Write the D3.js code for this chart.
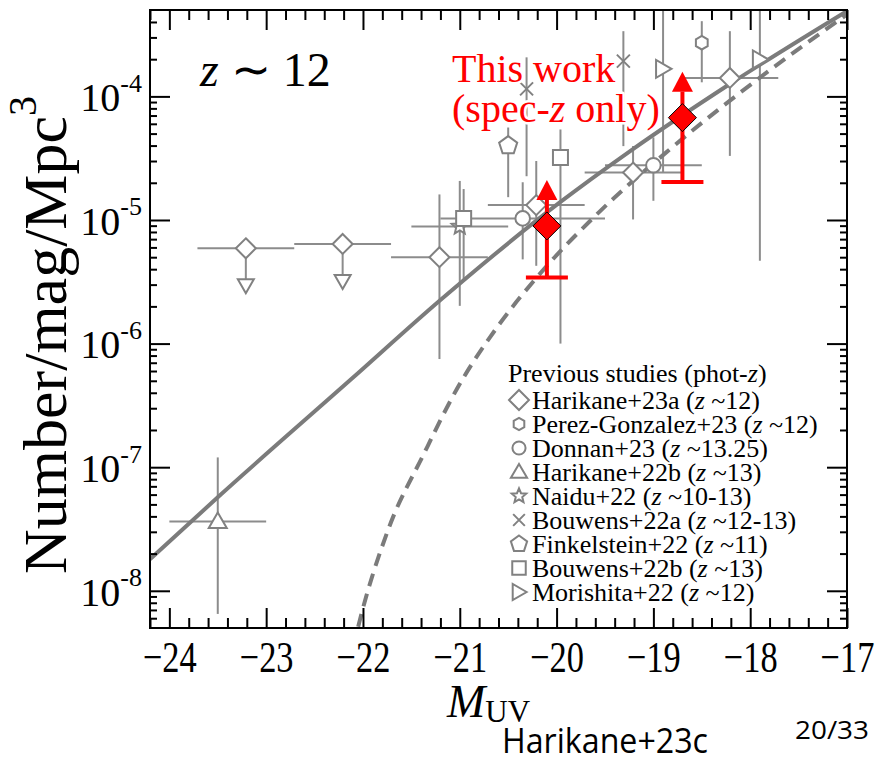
<!DOCTYPE html>
<html>
<head>
<meta charset="utf-8">
<script src="https://cdn.jsdelivr.net/npm/d3@7"></script>
<style>
  html, body { margin: 0; padding: 0; background: #fff; }
  svg { display: block; }
  .serif { font-family: "Liberation Serif", "Times New Roman", serif; }
</style>
</head>
<body>
<script>
// ---- UV luminosity function at z ~ 12 ----

// Axis ranges and tick values
const xDomain = [-24.2, -17];
const yDomain = [5e-9, 5e-4];
const xMajorTicks = [-24, -23, -22, -21, -20, -19, -18, -17];
const yMajorExp = [-8, -7, -6, -5, -4];

// Harikane+23a (z~12), diamonds; first two are upper limits
const h23aM   = [-23.21, -22.21, -21.21, -20.21, -19.21, -18.21];
const h23aPhi = [5.9e-6, 6.4e-6, 5.0e-6, 1.32e-5, 2.42e-5, 1.41e-4];
const h23aLo  = [null, null, 7.5e-7, 4.26e-6, 1.01e-5, 3.3e-5];
const h23aHi  = [null, null, 1.61e-5, 3.0e-5, 3.97e-5, 3.37e-4];
const h23aDM  = [0.5, 0.5, 0.5, 0.5, 0.5, 0.5];
const h23aUL  = [true, true, false, false, false, false];

// Perez-Gonzalez+23 (z~12), hexagon
const pg23M   = [-18.5];
const pg23Phi = [2.72e-4];
const pg23Lo  = [1.3e-4];
const pg23Hi  = [4.06e-4];
const pg23DM  = [0];

// Donnan+23 (z~13.25), circles
const d23M   = [-20.35, -19.0];
const d23Phi = [1.03e-5, 2.77e-5];
const d23Lo  = [4.8e-6, 1.43e-5];
const d23Hi  = [2.02e-5, 4.66e-5];
const d23DM  = [0.85, 0.5];

// Harikane+22b (z~13), triangle
const h22bM   = [-23.5];
const h22bPhi = [3.63e-8];
const h22bLo  = [6.5e-9];
const h22bHi  = [1.2e-7];
const h22bDM  = [0.5];

// Naidu+22 (z~10-13), star
const n22M   = [-21.0];
const n22Phi = [8.85e-6];
const n22Lo  = [2.02e-6];
const n22Hi  = [2.07e-5];
const n22DM  = [0.5];

// Bouwens+22a (z~12-13), crosses
const b22aM   = [-20.31, -19.31];
const b22aPhi = [1.15e-4, 1.93e-4];
const b22aLo  = [2.26e-5, 3.96e-5];
const b22aHi  = [2.07e-4, 3.37e-4];
const b22aDM  = [0, 0];

// Finkelstein+22 (z~11), pentagon
const f22M   = [-20.5];
const f22Phi = [4.0e-5];
const f22Lo  = [1.53e-5];
const f22Hi  = [5.6e-5];
const f22DM  = [0];

// Bouwens+22b (z~13), squares
const b22bM   = [-20.96, -19.96];
const b22bPhi = [1.03e-5, 3.2e-5];
const b22bLo  = [3.32e-6, 1.0e-6];
const b22bHi  = [1.78e-5, 5.4e-5];
const b22bDM  = [0, 0];

// Morishita+22 (z~12), right-pointing triangles
const m22M   = [-18.9, -17.9];
const m22Phi = [1.67e-4, 1.99e-4];
const m22Lo  = [2.43e-5, 4.68e-6];
const m22Hi  = [1e-3, 1e-3];
const m22DM  = [0, 0];

// This work (spec-z only): lower limits
const twM   = [-20.1, -18.7];
const twPhi = [8.95e-6, 6.73e-5];
const twLo  = [3.42e-6, 2.03e-5];

// Double power-law fit (solid)
const dplM   = [-24.2, -23.5, -22.12, -21.2, -19.97, -19.24, -18.21, -17.0];
const dplPhi = [1.80e-8, 5.71e-8, 5.16e-7, 2.25e-6, 1.38e-5, 3.61e-5, 1.26e-4, 4.9e-4];

// Schechter fit (dashed)
const schM   = [-22.1, -22.05, -21.73, -21.38, -21.03, -20.59, -20.22, -19.55, -18.83, -17.90, -17.0];
const schPhi = [3.5e-9, 5.1e-9, 3.27e-8, 1.24e-7, 4.29e-7, 1.44e-6, 3.32e-6, 1.18e-5, 3.73e-5, 1.42e-4, 4.6e-4];

// Legend entries
const legendNames = ["Harikane+23a", "Perez-Gonzalez+23", "Donnan+23", "Harikane+22b", "Naidu+22",
                     "Bouwens+22a", "Finkelstein+22", "Bouwens+22b", "Morishita+22"];
const legendZ = ["12", "12", "13.25", "13", "10-13", "12-13", "11", "13", "12"];
const legendSym = ["diamond", "hexagon", "circle", "triUp", "star", "cross", "pentagon", "square", "triRight"];

// ---- drawing ----
const W = 894, H = 764;
const L = 150, R = 847, T = 10, B = 628;
const GRAY = "#818181";
const ERR = "#8c8c8c";

const x = d3.scaleLinear().domain(xDomain).range([L, R]);
const y = d3.scaleLog().domain(yDomain).range([B, T]);

const svg = d3.select("body").append("svg").attr("width", W).attr("height", H);
svg.append("defs").append("clipPath").attr("id", "plotClip")
  .append("rect").attr("x", L).attr("y", T).attr("width", R - L).attr("height", B - T);

// marker shapes
function poly(n, r, rot) {
  const pts = d3.range(n).map(i => {
    const a = rot + i * 2 * Math.PI / n;
    return [r * Math.sin(a), -r * Math.cos(a)];
  });
  return "M" + pts.map(p => p.join(",")).join("L") + "Z";
}
function starPath(r) {
  const pts = d3.range(10).map(i => {
    const rr = i % 2 === 0 ? r : r * 0.45;
    const a = i * Math.PI / 5;
    return [rr * Math.sin(a), -rr * Math.cos(a)];
  });
  return "M" + pts.map(p => p.join(",")).join("L") + "Z";
}
const shapes = {
  diamond: s => `M0,${-10*s}L${10*s},0L0,${10*s}L${-10*s},0Z`,
  hexagon: s => poly(6, 6.8 * s, 0),
  circle: s => d3.arc()({innerRadius: 0, outerRadius: 7.3 * s, startAngle: 0, endAngle: 2 * Math.PI}),
  triUp: s => `M0,${-9*s}L${9*s},${6.5*s}L${-9*s},${6.5*s}Z`,
  star: s => starPath(8.5 * s),
  cross: s => `M${-6.5*s},${-6.5*s}L${6.5*s},${6.5*s}M${6.5*s},${-6.5*s}L${-6.5*s},${6.5*s}`,
  pentagon: s => poly(5, 9.5 * s, 0),
  square: s => `M${-7.5*s},${-7.5*s}h${15*s}v${15*s}h${-15*s}Z`,
  triRight: s => `M${8.5*s},0L${-7*s},${-9*s}L${-7*s},${9*s}Z`,
  triDown: s => `M0,${7*s}L${8*s},${-7*s}L${-8*s},${-7*s}Z`
};

function rows(M, phi, lo, hi, dM, ul) {
  return M.map((m, i) => ({m, phi: phi[i], lo: lo ? lo[i] : null, hi: hi ? hi[i] : null,
                           dm: dM ? dM[i] : 0, ul: ul ? ul[i] : false}));
}
const series = [
  {sym: "diamond",  data: rows(h23aM, h23aPhi, h23aLo, h23aHi, h23aDM, h23aUL)},
  {sym: "hexagon",  data: rows(pg23M, pg23Phi, pg23Lo, pg23Hi, pg23DM)},
  {sym: "circle",   data: rows(d23M, d23Phi, d23Lo, d23Hi, d23DM)},
  {sym: "triUp",    data: rows(h22bM, h22bPhi, h22bLo, h22bHi, h22bDM)},
  {sym: "star",     data: rows(n22M, n22Phi, n22Lo, n22Hi, n22DM)},
  {sym: "cross",    data: rows(b22aM, b22aPhi, b22aLo, b22aHi, b22aDM)},
  {sym: "pentagon", data: rows(f22M, f22Phi, f22Lo, f22Hi, f22DM)},
  {sym: "square",   data: rows(b22bM, b22bPhi, b22bLo, b22bHi, b22bDM)},
  {sym: "triRight", data: rows(m22M, m22Phi, m22Lo, m22Hi, m22DM)}
];

const plot = svg.append("g").attr("clip-path", "url(#plotClip)");

// error bars
const errG = plot.append("g").attr("stroke", ERR).attr("stroke-width", 2).attr("fill", "none");
series.forEach(s => {
  s.data.forEach(d => {
    if (d.dm > 0) {
      errG.append("line").attr("x1", x(d.m - d.dm)).attr("x2", x(d.m + d.dm))
        .attr("y1", y(d.phi)).attr("y2", y(d.phi));
    }
    if (d.lo != null && d.hi != null) {
      errG.append("line").attr("x1", x(d.m)).attr("x2", x(d.m))
        .attr("y1", y(d.lo)).attr("y2", y(d.hi));
    }
    if (d.ul) {
      errG.append("line").attr("x1", x(d.m)).attr("x2", x(d.m))
        .attr("y1", y(d.phi)).attr("y2", y(d.phi) + 31);
      errG.append("path").attr("d", shapes.triDown(1))
        .attr("transform", `translate(${x(d.m)},${y(d.phi) + 38})`)
        .attr("fill", "#fff").attr("stroke", GRAY);
    }
  });
});

// model curves
const line = d3.line().x(d => x(d[0])).y(d => y(d[1])).curve(d3.curveMonotoneX);
plot.append("path").datum(dplM.map((m, i) => [m, dplPhi[i]]))
  .attr("d", line).attr("fill", "none").attr("stroke", "#7b7b7b").attr("stroke-width", 4);
plot.append("path").datum(schM.map((m, i) => [m, schPhi[i]]))
  .attr("d", line).attr("fill", "none").attr("stroke", "#7b7b7b").attr("stroke-width", 4)
  .attr("stroke-dasharray", "13,8");

// markers
series.forEach(s => {
  plot.append("g").selectAll("path").data(s.data).join("path")
    .attr("d", shapes[s.sym](1))
    .attr("transform", d => `translate(${x(d.m)},${y(d.phi)})`)
    .attr("fill", s.sym === "cross" ? "none" : "#fff")
    .attr("stroke", GRAY).attr("stroke-width", 2);
});

// this work: red lower limits
const tw = twM.map((m, i) => ({m, phi: twPhi[i], lo: twLo[i]}));
const twG = plot.append("g");
tw.forEach(d => {
  const cx = x(d.m), cy = y(d.phi);
  twG.append("line").attr("x1", cx).attr("x2", cx).attr("y1", y(d.lo)).attr("y2", cy - 26)
    .attr("stroke", "#ff0000").attr("stroke-width", 4);
  twG.append("line").attr("x1", cx - 21).attr("x2", cx + 21).attr("y1", y(d.lo)).attr("y2", y(d.lo))
    .attr("stroke", "#ff0000").attr("stroke-width", 4);
  twG.append("path").attr("d", `M${cx},${cy - 46}L${cx + 10.5},${cy - 26}L${cx - 10.5},${cy - 26}Z`)
    .attr("fill", "#ff0000");
  twG.append("path").attr("d", `M${cx},${cy - 14}L${cx + 14},${cy}L${cx},${cy + 14}L${cx - 14},${cy}Z`)
    .attr("fill", "#ff0000").attr("stroke", "#000").attr("stroke-width", 1);
});

// ---- axes ----
const xMinor = d3.range(-24.2, -16.99, 0.2).map(v => Math.round(v * 10) / 10)
  .filter(v => !xMajorTicks.includes(v));
const yMinor = [];
for (let e = -9; e <= -4; e++) for (let k = 2; k <= 9; k++) {
  const v = k * Math.pow(10, e);
  if (v > yDomain[0] * 1.0001 && v < yDomain[1] * 0.9999) yMinor.push(v);
}
const yMajor = yMajorExp.map(e => Math.pow(10, e));

function noDomain(g) { g.select(".domain").remove(); g.selectAll("line").attr("stroke", "#000").attr("stroke-width", 2); }

// bottom
svg.append("g").attr("transform", `translate(0,${B})`)
  .call(d3.axisBottom(x).tickValues(xMajorTicks).tickSize(-20).tickPadding(12).tickFormat(d3.format("d")))
  .call(noDomain)
  .call(g => g.selectAll("text").attr("class", "serif").attr("font-family", null)
    .attr("font-size", 40).attr("fill", "#000").attr("transform", "scale(0.86,1.1)"));
svg.append("g").attr("transform", `translate(0,${B})`)
  .call(d3.axisBottom(x).tickValues(xMinor).tickSize(-10).tickFormat(""))
  .call(noDomain);
// top
svg.append("g").attr("transform", `translate(0,${T})`)
  .call(d3.axisTop(x).tickValues(xMajorTicks).tickSize(-20).tickFormat(""))
  .call(noDomain);
svg.append("g").attr("transform", `translate(0,${T})`)
  .call(d3.axisTop(x).tickValues(xMinor).tickSize(-10).tickFormat(""))
  .call(noDomain);
// left
svg.append("g").attr("transform", `translate(${L},0)`)
  .call(d3.axisLeft(y).tickValues(yMajor).tickSize(-20).tickFormat(""))
  .call(noDomain)
  .call(g => g.selectAll(".tick").each(function(d) {
    const t = d3.select(this).append("text").attr("class", "serif")
      .attr("x", -8).attr("y", 0).attr("dy", "0.36em").attr("text-anchor", "end")
      .attr("font-size", 40).attr("fill", "#000");
    t.append("tspan").text("10");
    t.append("tspan").attr("font-size", 26).attr("dy", "-0.75em").text("-" + Math.round(-Math.log10(d)));
  }));
svg.append("g").attr("transform", `translate(${L},0)`)
  .call(d3.axisLeft(y).tickValues(yMinor).tickSize(-7).tickFormat(""))
  .call(noDomain);
// right
svg.append("g").attr("transform", `translate(${R},0)`)
  .call(d3.axisRight(y).tickValues(yMajor).tickSize(-20).tickFormat(""))
  .call(noDomain);
svg.append("g").attr("transform", `translate(${R},0)`)
  .call(d3.axisRight(y).tickValues(yMinor).tickSize(-7).tickFormat(""))
  .call(noDomain);

// frame
svg.append("rect").attr("x", L).attr("y", T).attr("width", R - L).attr("height", B - T)
  .attr("fill", "none").attr("stroke", "#000").attr("stroke-width", 2);

// axis titles
const xt = svg.append("text").attr("class", "serif").attr("x", 447).attr("y", 717)
  .attr("font-size", 46).attr("fill", "#000");
xt.append("tspan").attr("font-style", "italic").text("M");
xt.append("tspan").attr("font-size", 31).attr("dy", 5).text("UV");

const yt = svg.append("text").attr("class", "serif")
  .attr("transform", "translate(66,335) rotate(-90)").attr("text-anchor", "middle")
  .attr("font-size", 62).attr("fill", "#000");
yt.append("tspan").text("Number/mag/Mpc");
yt.append("tspan").attr("font-size", 40).attr("dy", "-0.75em").text("3");

// redshift label
const zl = svg.append("text").attr("class", "serif").attr("x", 200).attr("y", 86)
  .attr("font-size", 48).attr("fill", "#000");
zl.append("tspan").attr("font-style", "italic").text("z");
zl.append("tspan").text(" ∼ 12");

// this work label
const twl = svg.append("g").attr("class", "serif").attr("font-size", 40).attr("fill", "#ff0000")
  .attr("stroke", "#fff").attr("stroke-width", 5).attr("paint-order", "stroke").attr("stroke-linejoin", "round");
twl.append("text").attr("x", 452).attr("y", 82).text("This work");
const tw2 = twl.append("text").attr("x", 452).attr("y", 122);
tw2.append("tspan").text("(spec-");
tw2.append("tspan").attr("font-style", "italic").text("z");
tw2.append("tspan").text(" only)");

// legend
const lg = svg.append("g").attr("class", "serif").attr("font-size", 26).attr("fill", "#000");
const hdr = lg.append("text").attr("x", 508).attr("y", 382);
hdr.append("tspan").text("Previous studies (phot-");
hdr.append("tspan").attr("font-style", "italic").text("z");
hdr.append("tspan").text(")");
legendNames.forEach((name, i) => {
  const cy = 400 + i * 24;
  lg.append("path").attr("d", shapes[legendSym[i]](legendSym[i] === "diamond" ? 1 : 0.9))
    .attr("transform", `translate(519,${cy})`)
    .attr("fill", legendSym[i] === "cross" ? "none" : "#fff").attr("stroke", GRAY).attr("stroke-width", 2);
  const t = lg.append("text").attr("x", 532).attr("y", cy + 9);
  t.append("tspan").text(name + " (");
  t.append("tspan").attr("font-style", "italic").text("z");
  t.append("tspan").text(" ~" + legendZ[i] + ")");
});

// footer
svg.append("text").attr("x", 502).attr("y", 753).attr("font-family", "'Open Sans', 'Noto Sans', sans-serif")
  .attr("font-size", 34).attr("textLength", 206).attr("lengthAdjust", "spacingAndGlyphs")
  .attr("fill", "#000").text("Harikane+23c");
svg.append("text").attr("x", 795).attr("y", 739).attr("font-family", "'Open Sans', 'Noto Sans', sans-serif")
  .attr("font-size", 25).attr("textLength", 74).attr("lengthAdjust", "spacingAndGlyphs")
  .attr("fill", "#000").text("20/33");
</script>
</body>
</html>
